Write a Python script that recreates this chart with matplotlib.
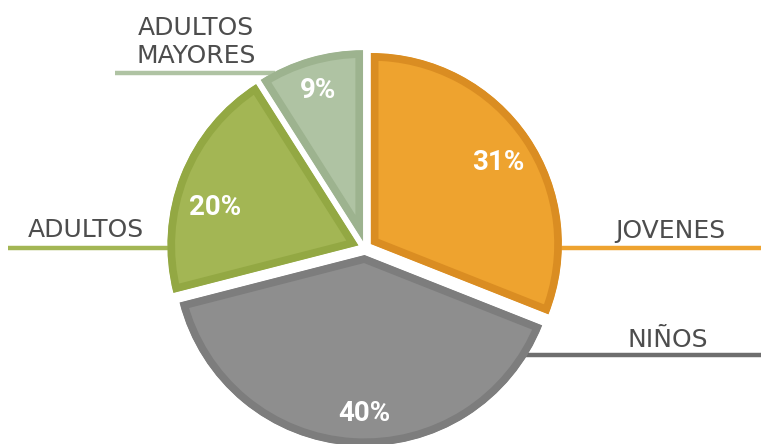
import matplotlib
matplotlib.use("Agg")
import matplotlib.pyplot as plt

# datos
categorias = ["JOVENES", "NIÑOS", "ADULTOS", "ADULTOS\nMAYORES"]
porcentajes = [31, 40, 20, 9]
colores = ["#EEA32F", "#8E8E8E", "#A3B654", "#AFC3A3"]
bordes = ["#DA8D22", "#7D7D7D", "#93A843", "#9DB38F"]
lineas = ["#EEA32F", "#6E6E6E", "#A3B654", "#AFC3A3"]

# geometria en pixeles de la imagen original
CX, CY, R = 365, 248, 191
W, H = 761, 444
SEP = [0.037] * 4


def px(x, y):
    return (x - CX) / R, (CY - y) / R


fig = plt.figure(figsize=(7.61, 4.44), dpi=100)
ax = fig.add_axes([0, 0, 1, 1])

wedges, _ = ax.pie(porcentajes, colors=colores, startangle=90, counterclock=False,
                   explode=SEP, radius=1.0, center=(0, 0),
                   wedgeprops=dict(linewidth=11))
# borde interior: el trazo se recorta con la propia cuña (pie pone clip_on=False)
for w, b in zip(wedges, bordes):
    w.set_edgecolor(b)
    w.set_clip_path(w)
    w.set_clip_on(True)

ax.set_aspect("auto")
ax.set_xlim(-CX / R, (W - CX) / R)
ax.set_ylim(-(H - CY) / R, CY / R)
ax.axis("off")

# porcentajes
pos_pct = [(498, 162), (364, 413), (215, 207), (318, 90)]
for p, (x, y) in zip(porcentajes, pos_pct):
    ax.text(*px(x, y), f"{p}%", color="white", fontsize=20, fontweight="bold",
            family=["Roboto", "DejaVu Sans"], ha="center", va="center", zorder=5)

# etiquetas con su linea
pos_lbl = [(670, 238), (668, 347), (86, 237), (196, 63)]
tramos = [(553, 761, 248), (468, 761, 355), (8, 168, 248), (115, 275, 73)]
for cat, (x, y), (x0, x1, yl), c in zip(categorias, pos_lbl, tramos, lineas):
    ax.text(*px(x, y), cat, color="#4D4D4D", fontsize=18, ha="center", va="baseline",
            linespacing=1.2, family="DejaVu Sans")
    a, b = px(x0, yl), px(x1, yl)
    ax.plot([a[0], b[0]], [a[1], b[1]], color=c, linewidth=3.2, zorder=0.5,
            solid_capstyle="butt")

fig.savefig("out.png", dpi=100)
